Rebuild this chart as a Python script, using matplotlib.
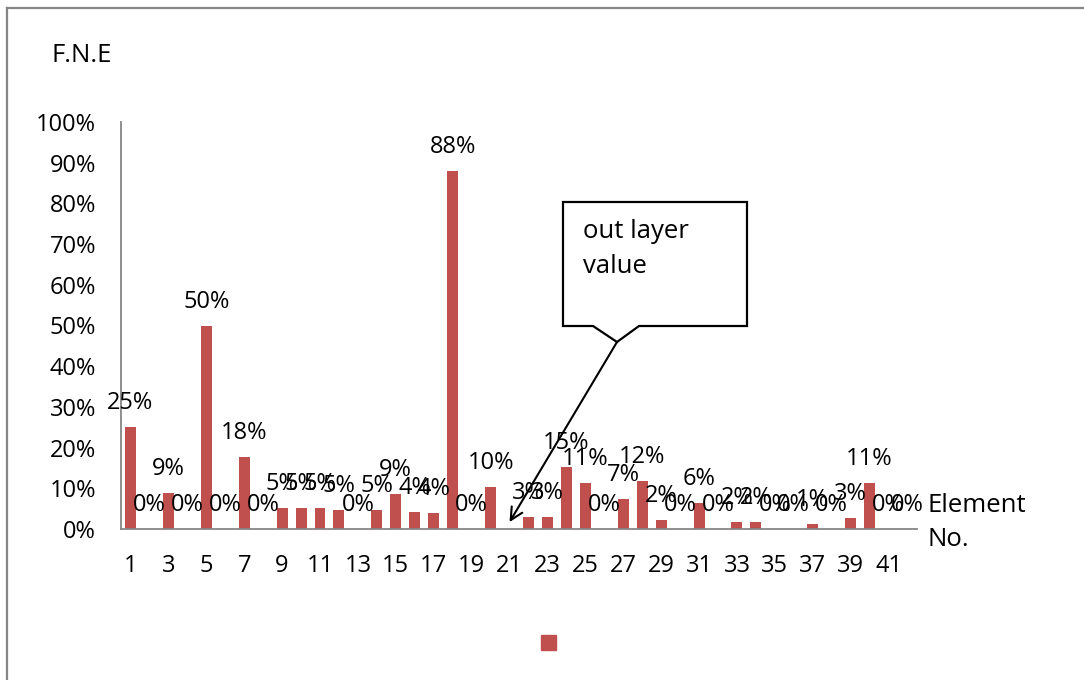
import numpy as np
import matplotlib
matplotlib.use("Agg")
import matplotlib.pyplot as plt
from matplotlib.patches import Polygon, Rectangle
from matplotlib.ticker import PercentFormatter

plt.rcParams['font.family'] = ['Open Sans', 'DejaVu Sans']

# Element numbers and their F.N.E share (element 21 is the outlier, left blank)
elements = list(range(1, 43))
fne = [0.25, 0.0, 0.089, 0.0, 0.50, 0.0, 0.176, 0.0, 0.052, 0.052,
       0.052, 0.047, 0.0, 0.046, 0.086, 0.042, 0.040, 0.88, 0.0, 0.102,
       np.nan, 0.030, 0.030, 0.152, 0.114, 0.0, 0.073, 0.119, 0.023, 0.0,
       0.063, 0.0, 0.017, 0.017, 0.0, 0.0, 0.013, 0.0, 0.027, 0.114,
       0.0, 0.0]
tick_labels = [str(e) for e in elements if e % 2 == 1]
outlier_element = 21

W, H = 1084, 680
fig = plt.figure(figsize=(W / 100, H / 100), dpi=100)


def fx(px):
    return px / W


def fy(py):
    return 1 - py / H


ax = fig.add_axes([fx(121), fy(529), fx(917) - fx(121), fy(122) - fy(529)])

bar_color = '#C0504D'
grey = '#868686'
fs = 17        # numbers: ticks and data labels
word_fs = 18.5  # axis titles and callout text

pos = np.arange(len(elements))
vals = np.array(fne, dtype=float)
ax.bar(pos, np.nan_to_num(vals), width=0.58, color=bar_color, zorder=2)

for p, v in zip(pos, vals):
    if np.isnan(v):
        continue
    ax.annotate(f"{v:.0%}", xy=(p, v), xytext=(0, 24), textcoords='offset pixels',
                ha='center', va='center', fontsize=fs, color='black', zorder=3)

ax.set_xlim(-0.5, len(elements) - 0.5)
ax.set_ylim(0, 1.0)
ax.set_yticks(np.arange(0, 1.01, 0.1))
ax.yaxis.set_major_formatter(PercentFormatter(1.0, decimals=0))
ax.set_xticks([p for p, e in zip(pos, elements) if e % 2 == 1])
ax.set_xticklabels(tick_labels)
ax.tick_params(axis='both', length=0, labelsize=fs, colors='black')
ax.tick_params(axis='x', pad=18)
ax.tick_params(axis='y', pad=18)

for side in ('top', 'right'):
    ax.spines[side].set_visible(False)
for side in ('left', 'bottom'):
    ax.spines[side].set_color(grey)
    ax.spines[side].set_linewidth(1.3)

# Axis titles
fig.text(fx(52), fy(55), "F.N.E", fontsize=word_fs, ha='left', va='center')
fig.text(fx(927), fy(505), "Element", fontsize=word_fs, ha='left', va='center')
fig.text(fx(927), fy(540), "No.", fontsize=word_fs, ha='left', va='center')

# Chart area border (top and left edges)
fig.add_artist(plt.Line2D([fx(7), fx(1084)], [fy(8), fy(8)], color=grey, lw=1.6,
                          transform=fig.transFigure))
fig.add_artist(plt.Line2D([fx(7), fx(7)], [fy(8), fy(680)], color=grey, lw=1.6,
                          transform=fig.transFigure))

# Legend key without text
fig.add_artist(Rectangle((fx(541), fy(650)), fx(15), fy(635) - fy(650),
                         transform=fig.transFigure, color=bar_color))

# Callout box pointing at the outlier element
callout = [(563, 202), (747, 202), (747, 326), (639, 326), (617, 342),
           (593, 326), (563, 326)]
fig.add_artist(Polygon([(fx(x), fy(y)) for x, y in callout], closed=True,
                       transform=fig.transFigure, facecolor='white',
                       edgecolor='black', lw=1.6, zorder=5))
fig.text(fx(583), fy(232), "out layer", fontsize=word_fs, ha='left', va='center', zorder=6)
fig.text(fx(583), fy(267), "value", fontsize=word_fs, ha='left', va='center', zorder=6)

ax.annotate("", xy=(elements.index(outlier_element), 0.017), xycoords='data',
            xytext=(fx(617), fy(342)), textcoords='figure fraction',
            arrowprops=dict(arrowstyle='->', color='black', lw=1.5,
                            mutation_scale=22, shrinkA=0, shrinkB=0),
            annotation_clip=False, zorder=6)

fig.savefig("out.png", dpi=100)
